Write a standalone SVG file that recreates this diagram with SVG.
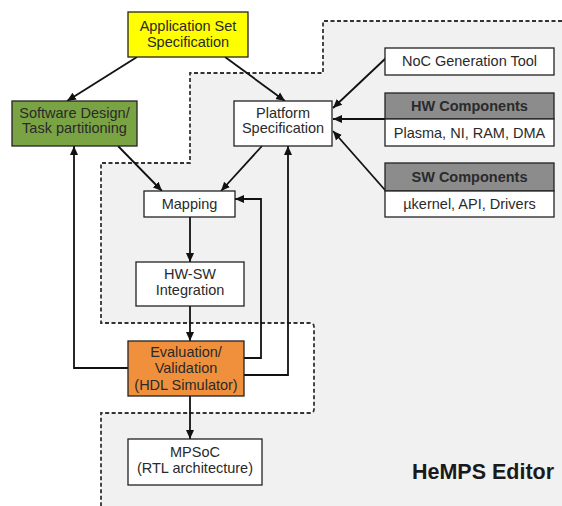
<svg xmlns="http://www.w3.org/2000/svg" width="562" height="506" viewBox="0 0 562 506">
<style>
.box{stroke:#222;stroke-width:1.3}
.w{fill:#fff}
.t{font-family:"Liberation Sans",Arial,sans-serif;font-size:14.5px;fill:#2a2a2a;text-anchor:middle}
.b{font-weight:bold}
.c{fill:none;stroke:#111;stroke-width:1.8}
</style>
<defs>
<marker id="ah" markerWidth="10" markerHeight="10" refX="9" refY="5" orient="auto" markerUnits="userSpaceOnUse">
<path d="M0,1 L9,5 L0,9 z" fill="#111"/>
</marker>
</defs>
<rect width="562" height="506" fill="#fff"/>
<g id="region">
<path d="M323,21 H562 V506 H101 V413 H310 Q314,413 314,409 V327 Q314,323 310,323 H101 V163 H190 V73 H323 Z" fill="#f1f1f1" stroke="none"/>
<path d="M562,21 H323 V73 H190 V163 H101 V323 H310 Q314,323 314,327 V409 Q314,413 310,413 H101 V506" fill="none" stroke="#333" stroke-width="1.8" stroke-dasharray="4,2.5"/>
</g>
<g id="connectors" class="c">
<line x1="137" y1="57" x2="67" y2="101" marker-end="url(#ah)"/>
<line x1="225" y1="57" x2="285" y2="101" marker-end="url(#ah)"/>
<line x1="118" y1="146" x2="162" y2="191" marker-end="url(#ah)"/>
<line x1="262" y1="146" x2="221" y2="191" marker-end="url(#ah)"/>
<line x1="190" y1="217" x2="190" y2="262" marker-end="url(#ah)"/>
<line x1="190" y1="306" x2="190" y2="341" marker-end="url(#ah)"/>
<line x1="190" y1="396" x2="190" y2="439" marker-end="url(#ah)"/>
<polyline points="128,368 74,368 74,146" marker-end="url(#ah)"/>
<polyline points="244,358 261,358 261,199 235,199" marker-end="url(#ah)"/>
<polyline points="244,375 288,375 288,146" marker-end="url(#ah)"/>
<line x1="386" y1="58" x2="333" y2="108" marker-end="url(#ah)"/>
<line x1="385" y1="119" x2="333" y2="119" marker-end="url(#ah)"/>
<line x1="385" y1="190" x2="333" y2="131" marker-end="url(#ah)"/>
</g>
<g id="app">
<rect class="box" x="128" y="12" width="120" height="45" fill="#ffff00"/>
<text class="t" x="188" y="31">Application Set</text>
<text class="t" x="188" y="47">Specification</text>
</g>
<g id="swdesign">
<rect class="box" x="12" y="101" width="125" height="45" fill="#7aa344"/>
<text class="t" x="74.5" y="118">Software Design/</text>
<text class="t" x="74.5" y="133">Task partitioning</text>
</g>
<g id="platform">
<rect class="box w" x="234" y="101" width="98" height="45"/>
<text class="t" x="283" y="118">Platform</text>
<text class="t" x="283" y="133">Specification</text>
</g>
<g id="mapping">
<rect class="box w" x="144" y="191" width="91" height="26"/>
<text class="t" x="189.5" y="208.5">Mapping</text>
</g>
<g id="hwsw">
<rect class="box w" x="136" y="262" width="108" height="44"/>
<text class="t" x="190" y="279">HW-SW</text>
<text class="t" x="190" y="295">Integration</text>
</g>
<g id="eval">
<rect class="box" x="128" y="341" width="116" height="55" fill="#f0903c"/>
<text class="t" x="186" y="357">Evaluation/</text>
<text class="t" x="186" y="373">Validation</text>
<text class="t" x="186" y="390">(HDL Simulator)</text>
</g>
<g id="mpsoc">
<rect class="box w" x="128" y="439" width="134" height="46"/>
<text class="t" x="195" y="457">MPSoC</text>
<text class="t" x="195" y="473">(RTL architecture)</text>
</g>
<g id="noc">
<rect class="box w" x="385" y="48" width="169" height="27"/>
<text class="t" x="469.5" y="66">NoC Generation Tool</text>
</g>
<g id="hw">
<rect class="box" x="385" y="93" width="169" height="26" fill="#8c8c8c"/>
<rect class="box w" x="385" y="119" width="169" height="27"/>
<text class="t b" x="469.5" y="111">HW Components</text>
<text class="t" x="469.5" y="138">Plasma, NI, RAM, DMA</text>
</g>
<g id="sw">
<rect class="box" x="385" y="163" width="169" height="28" fill="#8c8c8c"/>
<rect class="box w" x="385" y="191" width="169" height="26"/>
<text class="t b" x="469.5" y="182">SW Components</text>
<text class="t" x="469.5" y="209">µkernel, API, Drivers</text>
</g>
<g id="label">
<text x="483" y="479" font-family="Liberation Sans, Arial, sans-serif" font-size="21.5" font-weight="bold" fill="#1a1a1a" text-anchor="middle">HeMPS Editor</text>
</g>
</svg>
